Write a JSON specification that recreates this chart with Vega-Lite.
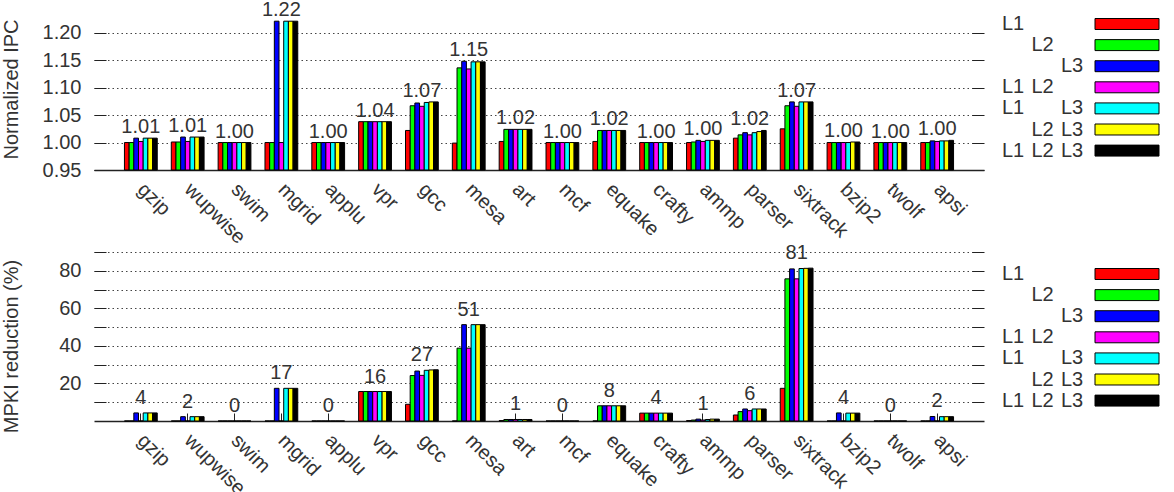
{
  "$schema": "https://vega.github.io/schema/vega-lite/v6.json",
  "padding": 0,
  "background": "white",
  "config": {
    "font": "Liberation Sans",
    "view": {"stroke": null},
    "axis": {"labelFont": "Liberation Sans", "labelFontSize": 20, "labelColor": "#333", "titleFont": "Liberation Sans", "titleFontSize": 20, "titleFontWeight": "normal", "titleColor": "#333", "tickColor": "#222", "domainColor": "#222"}
  },
  "datasets": {
    "d": [
      {"b":"gzip","s":"L1","i":1.000,"m":0},{"b":"gzip","s":"L2","i":1.000,"m":0},{"b":"gzip","s":"L3","i":1.008,"m":4.3},{"b":"gzip","s":"L1 L2","i":1.002,"m":0},{"b":"gzip","s":"L1 L3","i":1.008,"m":4.3},{"b":"gzip","s":"L2 L3","i":1.008,"m":4.3},{"b":"gzip","s":"L1 L2 L3","i":1.008,"m":4.3},
      {"b":"wupwise","s":"L1","i":1.001,"m":0},{"b":"wupwise","s":"L2","i":1.001,"m":0},{"b":"wupwise","s":"L3","i":1.010,"m":2.3},{"b":"wupwise","s":"L1 L2","i":1.002,"m":0},{"b":"wupwise","s":"L1 L3","i":1.010,"m":2.3},{"b":"wupwise","s":"L2 L3","i":1.010,"m":2.3},{"b":"wupwise","s":"L1 L2 L3","i":1.010,"m":2.3},
      {"b":"swim","s":"L1","i":1.000,"m":0},{"b":"swim","s":"L2","i":1.000,"m":0},{"b":"swim","s":"L3","i":1.000,"m":0},{"b":"swim","s":"L1 L2","i":1.000,"m":0},{"b":"swim","s":"L1 L3","i":1.000,"m":0},{"b":"swim","s":"L2 L3","i":1.000,"m":0},{"b":"swim","s":"L1 L2 L3","i":1.000,"m":0},
      {"b":"mgrid","s":"L1","i":1.000,"m":0},{"b":"mgrid","s":"L2","i":1.000,"m":0},{"b":"mgrid","s":"L3","i":1.221,"m":17.4},{"b":"mgrid","s":"L1 L2","i":1.000,"m":0},{"b":"mgrid","s":"L1 L3","i":1.221,"m":17.4},{"b":"mgrid","s":"L2 L3","i":1.221,"m":17.4},{"b":"mgrid","s":"L1 L2 L3","i":1.221,"m":17.4},
      {"b":"applu","s":"L1","i":1.000,"m":0},{"b":"applu","s":"L2","i":1.000,"m":0},{"b":"applu","s":"L3","i":1.000,"m":0},{"b":"applu","s":"L1 L2","i":1.000,"m":0},{"b":"applu","s":"L1 L3","i":1.000,"m":0},{"b":"applu","s":"L2 L3","i":1.000,"m":0},{"b":"applu","s":"L1 L2 L3","i":1.000,"m":0},
      {"b":"vpr","s":"L1","i":1.038,"m":15.7},{"b":"vpr","s":"L2","i":1.038,"m":15.7},{"b":"vpr","s":"L3","i":1.038,"m":15.7},{"b":"vpr","s":"L1 L2","i":1.038,"m":15.7},{"b":"vpr","s":"L1 L3","i":1.038,"m":15.7},{"b":"vpr","s":"L2 L3","i":1.038,"m":15.7},{"b":"vpr","s":"L1 L2 L3","i":1.038,"m":15.7},
      {"b":"gcc","s":"L1","i":1.022,"m":8.9},{"b":"gcc","s":"L2","i":1.067,"m":24.2},{"b":"gcc","s":"L3","i":1.072,"m":26.6},{"b":"gcc","s":"L1 L2","i":1.066,"m":24.3},{"b":"gcc","s":"L1 L3","i":1.073,"m":27.0},{"b":"gcc","s":"L2 L3","i":1.074,"m":27.2},{"b":"gcc","s":"L1 L2 L3","i":1.074,"m":27.3},
      {"b":"mesa","s":"L1","i":0.999,"m":0},{"b":"mesa","s":"L2","i":1.136,"m":38.8},{"b":"mesa","s":"L3","i":1.148,"m":51.3},{"b":"mesa","s":"L1 L2","i":1.134,"m":38.8},{"b":"mesa","s":"L1 L3","i":1.147,"m":51.3},{"b":"mesa","s":"L2 L3","i":1.147,"m":51.3},{"b":"mesa","s":"L1 L2 L3","i":1.147,"m":51.3},
      {"b":"art","s":"L1","i":1.002,"m":0.2},{"b":"art","s":"L2","i":1.024,"m":0.8},{"b":"art","s":"L3","i":1.024,"m":0.8},{"b":"art","s":"L1 L2","i":1.024,"m":0.8},{"b":"art","s":"L1 L3","i":1.024,"m":0.8},{"b":"art","s":"L2 L3","i":1.024,"m":0.8},{"b":"art","s":"L1 L2 L3","i":1.024,"m":0.8},
      {"b":"mcf","s":"L1","i":1.000,"m":0},{"b":"mcf","s":"L2","i":1.000,"m":0},{"b":"mcf","s":"L3","i":1.000,"m":0},{"b":"mcf","s":"L1 L2","i":1.000,"m":0},{"b":"mcf","s":"L1 L3","i":1.000,"m":0},{"b":"mcf","s":"L2 L3","i":1.000,"m":0},{"b":"mcf","s":"L1 L2 L3","i":1.000,"m":0},
      {"b":"equake","s":"L1","i":1.002,"m":0},{"b":"equake","s":"L2","i":1.022,"m":8.1},{"b":"equake","s":"L3","i":1.022,"m":8.1},{"b":"equake","s":"L1 L2","i":1.022,"m":8.1},{"b":"equake","s":"L1 L3","i":1.022,"m":8.1},{"b":"equake","s":"L2 L3","i":1.022,"m":8.1},{"b":"equake","s":"L1 L2 L3","i":1.022,"m":8.1},
      {"b":"crafty","s":"L1","i":1.000,"m":4.2},{"b":"crafty","s":"L2","i":1.000,"m":4.2},{"b":"crafty","s":"L3","i":1.000,"m":4.2},{"b":"crafty","s":"L1 L2","i":1.000,"m":4.2},{"b":"crafty","s":"L1 L3","i":1.000,"m":4.2},{"b":"crafty","s":"L2 L3","i":1.000,"m":4.2},{"b":"crafty","s":"L1 L2 L3","i":1.000,"m":4.2},
      {"b":"ammp","s":"L1","i":1.000,"m":0.2},{"b":"ammp","s":"L2","i":1.001,"m":0.5},{"b":"ammp","s":"L3","i":1.004,"m":1.0},{"b":"ammp","s":"L1 L2","i":1.002,"m":0.5},{"b":"ammp","s":"L1 L3","i":1.004,"m":0.8},{"b":"ammp","s":"L2 L3","i":1.004,"m":1.0},{"b":"ammp","s":"L1 L2 L3","i":1.004,"m":1.0},
      {"b":"parser","s":"L1","i":1.008,"m":3.2},{"b":"parser","s":"L2","i":1.014,"m":5.0},{"b":"parser","s":"L3","i":1.018,"m":6.4},{"b":"parser","s":"L1 L2","i":1.014,"m":5.5},{"b":"parser","s":"L1 L3","i":1.018,"m":6.4},{"b":"parser","s":"L2 L3","i":1.020,"m":6.4},{"b":"parser","s":"L1 L2 L3","i":1.022,"m":6.4},
      {"b":"sixtrack","s":"L1","i":1.025,"m":17.4},{"b":"sixtrack","s":"L2","i":1.067,"m":75.7},{"b":"sixtrack","s":"L3","i":1.074,"m":81.0},{"b":"sixtrack","s":"L1 L2","i":1.066,"m":75.7},{"b":"sixtrack","s":"L1 L3","i":1.074,"m":81.2},{"b":"sixtrack","s":"L2 L3","i":1.074,"m":81.3},{"b":"sixtrack","s":"L1 L2 L3","i":1.074,"m":81.4},
      {"b":"bzip2","s":"L1","i":1.000,"m":0},{"b":"bzip2","s":"L2","i":1.000,"m":0},{"b":"bzip2","s":"L3","i":1.000,"m":4.3},{"b":"bzip2","s":"L1 L2","i":1.000,"m":0},{"b":"bzip2","s":"L1 L3","i":1.000,"m":4.2},{"b":"bzip2","s":"L2 L3","i":1.001,"m":4.2},{"b":"bzip2","s":"L1 L2 L3","i":1.001,"m":4.2},
      {"b":"twolf","s":"L1","i":1.000,"m":0},{"b":"twolf","s":"L2","i":1.000,"m":0},{"b":"twolf","s":"L3","i":1.000,"m":0},{"b":"twolf","s":"L1 L2","i":1.000,"m":0},{"b":"twolf","s":"L1 L3","i":1.000,"m":0},{"b":"twolf","s":"L2 L3","i":1.000,"m":0},{"b":"twolf","s":"L1 L2 L3","i":1.000,"m":0},
      {"b":"apsi","s":"L1","i":1.000,"m":0},{"b":"apsi","s":"L2","i":1.000,"m":0},{"b":"apsi","s":"L3","i":1.003,"m":2.4},{"b":"apsi","s":"L1 L2","i":1.002,"m":0},{"b":"apsi","s":"L1 L3","i":1.003,"m":2.3},{"b":"apsi","s":"L2 L3","i":1.003,"m":2.3},{"b":"apsi","s":"L1 L2 L3","i":1.004,"m":2.3}
    ],
    "leg": [
      {"s":"L1","t":"L1"},{"s":"L2","t":"L2"},{"s":"L3","t":"L3"},
      {"s":"L1 L2","t":"L1"},{"s":"L1 L2","t":"L2"},
      {"s":"L1 L3","t":"L1"},{"s":"L1 L3","t":"L3"},
      {"s":"L2 L3","t":"L2"},{"s":"L2 L3","t":"L3"},
      {"s":"L1 L2 L3","t":"L1"},{"s":"L1 L2 L3","t":"L2"},{"s":"L1 L2 L3","t":"L3"}
    ],
    "ser": [{"s":"L1"},{"s":"L2"},{"s":"L3"},{"s":"L1 L2"},{"s":"L1 L3"},{"s":"L2 L3"},{"s":"L1 L2 L3"}]
  },
  "bounds": "flush",
  "columns": 3,
  "spacing": {"row": 82, "column": 18},
  "concat": [
    {
      "width": 890,
      "height": 151,
      "data": {"name": "d"},
      "layer": [
        {
          "mark": {"type": "bar", "stroke": "#000", "strokeWidth": 1},
          "encoding": {
            "x": {"field": "b", "type": "nominal", "sort": null,
              "scale": {"domain": ["gzip","wupwise","swim","mgrid","applu","vpr","gcc","mesa","art","mcf","equake","crafty","ammp","parser","sixtrack","bzip2","twolf","apsi"], "paddingInner": 0.3, "paddingOuter": 0.65},
              "axis": {"title": null, "labelAngle": 45, "labelAlign": "left", "labelBaseline": "middle", "tickSize": -8, "labelPadding": 24, "domainWidth": 1.5, "grid": false}},
            "xOffset": {"field": "s", "type": "nominal", "sort": null,
              "scale": {"domain": ["L1","L2","L3","L1 L2","L1 L3","L2 L3","L1 L2 L3"], "paddingInner": 0, "paddingOuter": 0}},
            "y": {"field": "i", "type": "quantitative",
              "scale": {"domain": [0.95, 1.225], "zero": false, "nice": false},
              "axis": {"title": "Normalized IPC", "values": [0.95, 1.0, 1.05, 1.1, 1.15, 1.2], "format": ".2f", "grid": true, "gridDash": [1.5, 3], "gridColor": "#444", "domain": false, "tickSize": -12, "labelPadding": 25, "titleX": -77, "titleY": 70, "titleBaseline": "alphabetic"}},
            "y2": {"datum": 0.95},
            "color": {"field": "s", "type": "nominal", "legend": null,
              "scale": {"domain": ["L1","L2","L3","L1 L2","L1 L3","L2 L3","L1 L2 L3"], "range": ["#ff0000","#00ff00","#0000ff","#ff00ff","#00ffff","#ffff00","#000000"]}}
          }
        },
        {
          "mark": {"type": "text", "dy": -11, "fontSize": 20, "color": "#333", "baseline": "middle"},
          "encoding": {
            "x": {"field": "b", "type": "nominal", "sort": null},
            "y": {"aggregate": "max", "field": "i", "type": "quantitative",
              "axis": {"orient": "right", "labels": false, "title": null, "grid": false, "domain": false, "tickSize": -12, "values": [0.95, 1.0, 1.05, 1.1, 1.15, 1.2]}},
            "text": {"aggregate": "max", "field": "i", "type": "quantitative", "format": ".2f"}
          }
        }
      ],
      "resolve": {"axis": {"y": "independent"}}
    },
    {
      "width": 75,
      "height": 151,
      "data": {"name": "leg"},
      "mark": {"type": "text", "align": "left", "baseline": "middle", "fontSize": 20, "color": "#333"},
      "encoding": {
        "x": {"field": "t", "type": "nominal", "scale": {"type": "point", "domain": ["L1","L2","L3"], "range": [0, 59], "padding": 0}, "axis": null},
        "y": {"field": "s", "type": "nominal", "scale": {"type": "band", "domain": ["L1","L2","L3","L1 L2","L1 L3","L2 L3","L1 L2 L3"], "range": [-5.55, 142.15], "paddingInner": 0.48, "paddingOuter": 0.24}, "axis": null},
        "text": {"field": "t"}
      }
    },
    {
      "width": 64,
      "height": 151,
      "data": {"name": "ser"},
      "mark": {"type": "bar", "stroke": "#000", "strokeWidth": 1},
      "encoding": {
        "y": {"field": "s", "type": "nominal", "scale": {"type": "band", "domain": ["L1","L2","L3","L1 L2","L1 L3","L2 L3","L1 L2 L3"], "range": [-5.55, 142.15], "paddingInner": 0.48, "paddingOuter": 0.24}, "axis": null},
        "color": {"field": "s", "type": "nominal", "legend": null,
          "scale": {"domain": ["L1","L2","L3","L1 L2","L1 L3","L2 L3","L1 L2 L3"], "range": ["#ff0000","#00ff00","#0000ff","#ff00ff","#00ffff","#ffff00","#000000"]}}
      }
    },
    {
      "width": 890,
      "height": 169,
      "data": {"name": "d"},
      "layer": [
        {
          "mark": {"type": "bar", "stroke": "#000", "strokeWidth": 1},
          "encoding": {
            "x": {"field": "b", "type": "nominal", "sort": null,
              "scale": {"domain": ["gzip","wupwise","swim","mgrid","applu","vpr","gcc","mesa","art","mcf","equake","crafty","ammp","parser","sixtrack","bzip2","twolf","apsi"], "paddingInner": 0.3, "paddingOuter": 0.65},
              "axis": {"title": null, "labelAngle": 45, "labelAlign": "left", "labelBaseline": "middle", "tickSize": -8, "labelPadding": 24, "domainWidth": 1.5, "grid": false}},
            "xOffset": {"field": "s", "type": "nominal", "sort": null,
              "scale": {"domain": ["L1","L2","L3","L1 L2","L1 L3","L2 L3","L1 L2 L3"], "paddingInner": 0, "paddingOuter": 0}},
            "y": {"field": "m", "type": "quantitative",
              "scale": {"domain": [0, 90], "nice": false},
              "axis": {"title": "MPKI reduction (%)", "values": [10, 20, 30, 40, 50, 60, 70, 80, 90], "labelExpr": "datum.value % 20 == 0 ? datum.label : ''", "grid": true, "gridDash": [1.5, 3], "gridColor": "#444", "domain": false, "tickSize": -12, "labelPadding": 25, "titleX": -77, "titleY": 94, "titleBaseline": "alphabetic"}},
            "color": {"field": "s", "type": "nominal", "legend": null,
              "scale": {"domain": ["L1","L2","L3","L1 L2","L1 L3","L2 L3","L1 L2 L3"], "range": ["#ff0000","#00ff00","#0000ff","#ff00ff","#00ffff","#ffff00","#000000"]}}
          }
        },
        {
          "mark": {"type": "text", "dy": -15, "fontSize": 20, "color": "#333", "baseline": "middle"},
          "encoding": {
            "x": {"field": "b", "type": "nominal", "sort": null},
            "y": {"aggregate": "max", "field": "m", "type": "quantitative",
              "axis": {"orient": "right", "labels": false, "title": null, "grid": false, "domain": false, "tickSize": -12, "values": [10, 20, 30, 40, 50, 60, 70, 80, 90]}},
            "text": {"aggregate": "max", "field": "m", "type": "quantitative", "format": ".0f"}
          }
        }
      ],
      "resolve": {"axis": {"y": "independent"}}
    },
    {
      "width": 75,
      "height": 169,
      "data": {"name": "leg"},
      "mark": {"type": "text", "align": "left", "baseline": "middle", "fontSize": 20, "color": "#333"},
      "encoding": {
        "x": {"field": "t", "type": "nominal", "scale": {"type": "point", "domain": ["L1","L2","L3"], "range": [0, 59], "padding": 0}, "axis": null},
        "y": {"field": "s", "type": "nominal", "scale": {"type": "band", "domain": ["L1","L2","L3","L1 L2","L1 L3","L2 L3","L1 L2 L3"], "range": [11.45, 159.15], "paddingInner": 0.48, "paddingOuter": 0.24}, "axis": null},
        "text": {"field": "t"}
      }
    },
    {
      "width": 64,
      "height": 169,
      "data": {"name": "ser"},
      "mark": {"type": "bar", "stroke": "#000", "strokeWidth": 1},
      "encoding": {
        "y": {"field": "s", "type": "nominal", "scale": {"type": "band", "domain": ["L1","L2","L3","L1 L2","L1 L3","L2 L3","L1 L2 L3"], "range": [11.45, 159.15], "paddingInner": 0.48, "paddingOuter": 0.24}, "axis": null},
        "color": {"field": "s", "type": "nominal", "legend": null,
          "scale": {"domain": ["L1","L2","L3","L1 L2","L1 L3","L2 L3","L1 L2 L3"], "range": ["#ff0000","#00ff00","#0000ff","#ff00ff","#00ffff","#ffff00","#000000"]}}
      }
    }
  ]
}
